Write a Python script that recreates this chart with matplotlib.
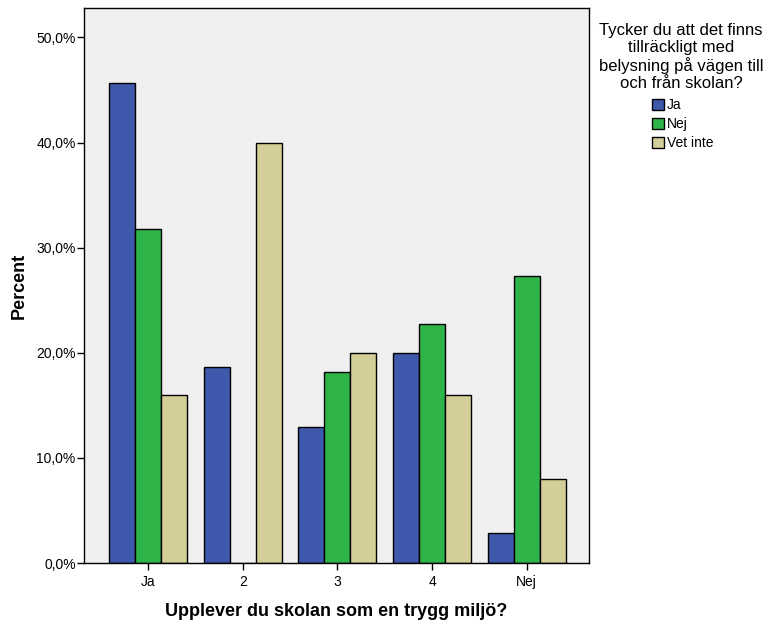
import numpy as np
import matplotlib.pyplot as plt
from matplotlib.ticker import FuncFormatter

plt.rcParams['font.family'] = ['Liberation Sans', 'DejaVu Sans']

categories = ['Ja', '2', '3', '4', 'Nej']
series = ['Ja', 'Nej', 'Vet inte']
ja_vals = [45.7, 18.6, 12.9, 20.0, 2.9]
nej_vals = [31.8, 0.0, 18.2, 22.7, 27.3]
vetinte_vals = [16.0, 40.0, 20.0, 16.0, 8.0]
colors = ['#3E58AC', '#2EB448', '#D4CF98']

fig = plt.figure(figsize=(7.71, 6.28), dpi=100)
ax = fig.add_axes([0.109, 0.1035, 0.655, 0.883])
ax.set_facecolor('#F0F0F0')

x = np.arange(len(categories))
w = 0.275
for i, (vals, name) in enumerate(zip([ja_vals, nej_vals, vetinte_vals], series)):
    ax.bar(x + (i - 1) * w, vals, width=w, color=colors[i], edgecolor='black',
           linewidth=1, label=name)

ax.set_xlim(-0.68, 4.66)
ax.set_ylim(0, 52.75)
ax.set_yticks(np.arange(0, 51, 10))
ax.yaxis.set_major_formatter(FuncFormatter(lambda v, p: f'{v:.1f}%'.replace('.', ',')))
ax.set_xticks(x)
ax.set_xticklabels(categories)
ax.tick_params(axis='both', labelsize=10, length=5, width=1, color='black')
ax.tick_params(axis='y', pad=1)
for s in ax.spines.values():
    s.set_linewidth(1)
    s.set_color('black')

ax.set_ylabel('Percent', fontsize=13, fontweight='bold', labelpad=6)
ax.set_xlabel('Upplever du skolan som en trygg miljö?', fontsize=13,
              fontweight='bold', labelpad=10)

# legend title drawn separately so the spacing matches
fig.text(681 / 771, 1 - 23 / 628,
         'Tycker du att det finns\ntillräckligt med\nbelysning på vägen till\noch från skolan?',
         ha='center', va='top', fontsize=12, linespacing=1.16, multialignment='center')

handles, labels = ax.get_legend_handles_labels()
fig.legend(handles, labels, loc='upper left', bbox_to_anchor=(652 / 771, 1 - 98 / 628),
           frameon=False, fontsize=10, borderpad=0, borderaxespad=0,
           handlelength=0.85, handleheight=0.85, handletextpad=0.25, labelspacing=0.36)

fig.savefig('out.png', dpi=100)
